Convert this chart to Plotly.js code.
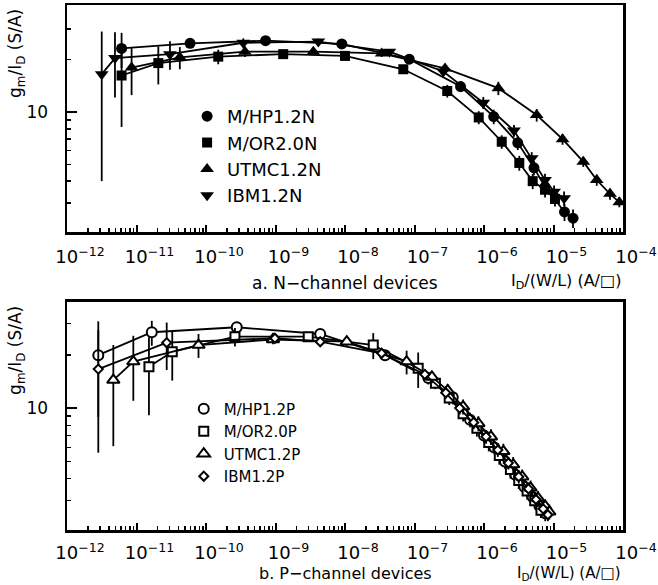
<!DOCTYPE html>
<html>
<head>
<meta charset="utf-8">
<script src="https://cdn.plot.ly/plotly-3.0.1.min.js"></script>
<style>html,body{margin:0;padding:0;background:#fff;}#chart{width:658px;height:585px;}</style>
</head>
<body>
<div id="chart"></div>
<script>
// ---------- data: (a) N-channel devices ----------
var hpnX = [6.1e-12, 5.9e-11, 7.2e-10, 9.0e-9, 8.4e-8, 4.6e-7, 1.38e-6, 3.06e-6, 5.24e-6, 7.55e-6, 1.44e-5, 1.91e-5];
var hpnY = [23.2, 24.8, 25.7, 24.6, 20.1, 14.0, 9.4, 6.64, 4.77, 3.71, 2.66, 2.45];
var hpnE = [5.3, 1.2, 1.0, 0.8, 0.8, 1.0, 0.9, 0.6, 0.45, 0.35, 0.3, 0.3];

var ornX = [6.1e-12, 2.06e-11, 1.5e-10, 1.29e-9, 1.0e-8, 6.9e-8, 2.96e-7, 8.4e-7, 1.8e-6, 3.22e-6, 5.02e-6, 7.55e-6, 1.05e-5];
var ornY = [16.2, 19.1, 20.8, 21.5, 21.0, 17.6, 13.2, 9.3, 6.74, 5.09, 4.0, 3.57, 3.16];
var ornE = [8.0, 4.7, 2.0, 1.0, 0.8, 1.0, 1.1, 0.8, 0.6, 0.5, 0.4, 0.35, 0.3];

var utnX = [8.5e-12, 4.2e-11, 3.64e-10, 3.5e-9, 3.37e-8, 2.75e-7, 1.61e-6, 5.73e-6, 1.35e-5, 2.68e-5, 4.19e-5, 6.5e-5, 8.85e-5];
var utnY = [18.0, 20.6, 22.2, 22.2, 21.7, 17.8, 13.7, 9.6, 6.97, 5.18, 4.06, 3.38, 3.03];
var utnE = [5.5, 3.0, 1.5, 1.0, 1.0, 1.0, 1.2, 0.8, 0.5, 0.35, 0.3, 0.25, 0.2];

var ibnX = [3.16e-12, 4.9e-12, 3.03e-11, 3.44e-10, 4.13e-9, 4.35e-8, 2.6e-7, 9.77e-7, 2.7e-6, 4.86e-6, 7.55e-6, 1.02e-5, 1.42e-5];
var ibnY = [16.5, 20.4, 21.5, 25.0, 25.4, 22.2, 17.1, 11.3, 7.81, 5.42, 4.06, 3.48, 3.19];
var ibnE = [12.5, 8.3, 4.0, 1.5, 1.0, 0.8, 1.0, 0.9, 0.6, 0.45, 0.35, 0.3, 0.3];

// ---------- data: (b) P-channel devices ----------
var hppX = [2.82e-12, 1.66e-11, 2.77e-10, 4.4e-9, 3.77e-8, 1.58e-7, 3.55e-7, 6.3e-7, 1.0e-6, 1.41e-6, 2.0e-6, 2.82e-6, 3.8e-6, 5.0e-6, 6.3e-6, 7.6e-6];
var hppY = [19.9, 26.8, 28.6, 26.2, 19.9, 14.8, 11.5, 8.6, 7.0, 6.0, 5.0, 4.2, 3.6, 3.15, 2.8, 2.55];
var hppE = [11.0, 4.3, 1.5, 1.0, 1.2, 1.2, 1.0, 0.8, 0.6, 0.5, 0.45, 0.35, 0.3, 0.3, 0.25, 0.25];

var orpX = [1.51e-11, 3.27e-11, 2.61e-10, 2.96e-9, 2.55e-8, 1.13e-7, 2.0e-7, 3.16e-7, 5.0e-7, 7.9e-7, 1.17e-6, 1.66e-6, 2.4e-6, 3.16e-6, 4.17e-6, 5.37e-6, 6.6e-6];
var orpY = [17.1, 20.8, 25.3, 25.3, 22.7, 16.8, 13.8, 11.4, 9.3, 7.7, 6.4, 5.4, 4.5, 3.9, 3.4, 3.0, 2.65];
var orpE = [8.0, 6.5, 3.0, 1.0, 3.8, 3.8, 1.0, 1.0, 0.9, 0.8, 0.7, 0.6, 0.5, 0.4, 0.35, 0.3, 0.25];

var utpX = [4.64e-12, 9.0e-12, 7.8e-11, 9.2e-10, 1.06e-8, 7.7e-8, 1.78e-7, 3.0e-7, 5.0e-7, 8.3e-7, 1.26e-6, 1.9e-6, 2.63e-6, 3.55e-6, 4.68e-6, 6.0e-6, 7.6e-6, 8.7e-6];
var utpY = [14.4, 18.3, 22.7, 24.4, 23.7, 18.3, 15.0, 12.6, 10.2, 8.2, 6.9, 5.7, 4.8, 4.1, 3.55, 3.1, 2.8, 2.6];
var utpE = [8.3, 7.3, 3.5, 1.5, 1.2, 2.8, 1.2, 1.0, 1.0, 0.8, 0.7, 0.6, 0.5, 0.4, 0.35, 0.3, 0.25, 0.25];

var ibpX = [2.82e-12, 2.72e-11, 9.8e-10, 4.4e-9, 3.37e-8, 1.41e-7, 2.82e-7, 4.47e-7, 7.1e-7, 1.07e-6, 1.58e-6, 2.24e-6, 3.16e-6, 4.37e-6, 5.6e-6, 7.1e-6, 8.3e-6];
var ibpY = [16.6, 23.4, 24.8, 23.7, 20.4, 15.5, 12.2, 10.0, 8.3, 6.9, 5.8, 4.9, 4.1, 3.5, 3.05, 2.7, 2.5];
var ibpE = [11.0, 7.0, 1.5, 1.0, 1.0, 1.0, 0.9, 0.8, 0.7, 0.6, 0.5, 0.4, 0.35, 0.3, 0.25, 0.25, 0.2];

// ---------- labels ----------
var namesN = ["M/HP1.2N", "M/OR2.0N", "UTMC1.2N", "IBM1.2N"];
var namesP = ["M/HP1.2P", "M/OR2.0P", "UTMC1.2P", "IBM1.2P"];
var decadeExponents = [-12, -11, -10, -9, -8, -7, -6, -5, -4];
var yMajorVals = [10];
var yMajorText = ["10"];
var yMinorVals = [3, 4, 5, 6, 7, 8, 9, 20, 30];

// ---------- build ----------
var xMajor = decadeExponents.map(function (e) { return Math.pow(10, e); });
var xText = decadeExponents.map(function (e) { return "10<sup>" + String(e).replace("-", "\u2212") + "</sup>"; });
var xMinor = [];
decadeExponents.slice(0, -1).forEach(function (e) {
  for (var k = 2; k <= 9; k++) xMinor.push(k * Math.pow(10, e));
});

function series(x, y, e, name, xa, ya, legendId, symbol, size, fill) {
  var lineTr = {
    x: x, y: y, xaxis: xa, yaxis: ya, type: "scatter", mode: "lines",
    line: { color: "black", width: 1.8 }, showlegend: false, hoverinfo: "skip",
    error_y: { type: "data", array: e, visible: true, color: "black", thickness: 1.8, width: 0 }
  };
  var markTr = {
    x: x, y: y, xaxis: xa, yaxis: ya, type: "scatter", mode: "markers", name: name,
    legend: legendId,
    marker: { symbol: symbol, size: size, color: fill, line: { color: "black", width: fill === "black" ? 0 : 2 } }
  };
  return [lineTr, markTr];
}

var traces = [].concat(
  series(hpnX, hpnY, hpnE, namesN[0], "x", "y", "legend", "circle", 11, "black"),
  series(ornX, ornY, ornE, namesN[1], "x", "y", "legend", "square", 10, "black"),
  series(utnX, utnY, utnE, namesN[2], "x", "y", "legend", "triangle-up", 12, "black"),
  series(ibnX, ibnY, ibnE, namesN[3], "x", "y", "legend", "triangle-down", 12, "black"),
  series(hppX, hppY, hppE, namesP[0], "x2", "y2", "legend2", "circle", 10, "white"),
  series(orpX, orpY, orpE, namesP[1], "x2", "y2", "legend2", "square", 9, "white"),
  series(utpX, utpY, utpE, namesP[2], "x2", "y2", "legend2", "triangle-up", 11, "white"),
  series(ibpX, ibpY, ibpE, namesP[3], "x2", "y2", "legend2", "diamond", 7, "white")
);

function xAxis(anchor, standoff) {
  return {
    type: "log", range: [-12, -4], anchor: anchor, domain: [0, 1],
    showline: true, linecolor: "black", linewidth: 2.5, mirror: true,
    showgrid: false, zeroline: false,
    ticks: "inside", ticklen: 7, tickwidth: 2, tickcolor: "black",
    tickmode: "array", tickvals: xMajor, ticktext: xText,
    tickfont: { size: 18, color: "black" }, ticklabelshift: 13, ticklabelstandoff: standoff,
    minor: { tickmode: "array", tickvals: xMinor, ticks: "inside", ticklen: 4, tickwidth: 1.5, tickcolor: "black", showgrid: false }
  };
}
function yAxis(anchor, range, domain) {
  return {
    type: "log", range: range, anchor: anchor, domain: domain,
    showline: true, linecolor: "black", linewidth: 2.5, mirror: true,
    showgrid: false, zeroline: false,
    ticks: "inside", ticklen: 10, tickwidth: 2, tickcolor: "black",
    tickmode: "array", tickvals: yMajorVals, ticktext: yMajorText,
    tickfont: { size: 17, color: "black" }, ticklabelstandoff: 13,
    minor: { tickmode: "array", tickvals: yMinorVals, ticks: "inside", ticklen: 4, tickwidth: 1.5, tickcolor: "black", showgrid: false }
  };
}

var legendBase = {
  bgcolor: "rgba(0,0,0,0)", borderwidth: 0, xanchor: "left", yanchor: "top",
  itemclick: false, itemdoubleclick: false, tracegroupgap: 0
};

var layout = {
  width: 658, height: 585,
  margin: { l: 67, r: 35, t: 5, b: 55 },
  paper_bgcolor: "white", plot_bgcolor: "white",
  font: { family: "DejaVu Sans", color: "black" },
  showlegend: true,
  xaxis: xAxis("y", 7),
  yaxis: yAxis("x", [0.3096, 1.615], [0.5676, 1]),
  xaxis2: xAxis("y2", 5),
  yaxis2: yAxis("x2", [0.312, 1.599], [0, 0.4343]),
  legend: Object.assign({}, legendBase, { x: 0.216, y: 0.823, font: { size: 18, color: "black" } }),
  legend2: Object.assign({}, legendBase, { x: 0.21, y: 0.262, font: { size: 15, color: "black" } }),
  annotations: [
    { text: "a. N\u2212channel devices", xref: "paper", yref: "paper", x: 0.5, y: 0.47, showarrow: false, xanchor: "center", yanchor: "middle", font: { size: 17 } },
    { text: "I<sub>D</sub>/(W/L) (A/\u25A1)", xref: "paper", yref: "paper", x: 1, y: 0.474, showarrow: false, xanchor: "right", yanchor: "middle", font: { size: 16 } },
    { text: "b. P\u2212channel devices", xref: "paper", yref: "paper", x: 0.5, y: -0.1048, showarrow: false, xanchor: "center", yanchor: "bottom", font: { size: 16 } },
    { text: "I<sub>D</sub>/(W/L) (A/\u25A1)", xref: "paper", yref: "paper", x: 1, y: -0.1048, showarrow: false, xanchor: "right", yanchor: "bottom", font: { size: 15 } },
    { text: "g<sub>m</sub>/I<sub>D</sub> (S/A)", xref: "paper", yref: "paper", x: -0.09, y: 0.9086, textangle: -90, showarrow: false, xanchor: "center", yanchor: "middle", font: { size: 17 } },
    { text: "g<sub>m</sub>/I<sub>D</sub> (S/A)", xref: "paper", yref: "paper", x: -0.09, y: 0.343, textangle: -90, showarrow: false, xanchor: "center", yanchor: "middle", font: { size: 17 } }
  ]
};

Plotly.newPlot("chart", traces, layout, { staticPlot: true, displayModeBar: false });
</script>
</body>
</html>
